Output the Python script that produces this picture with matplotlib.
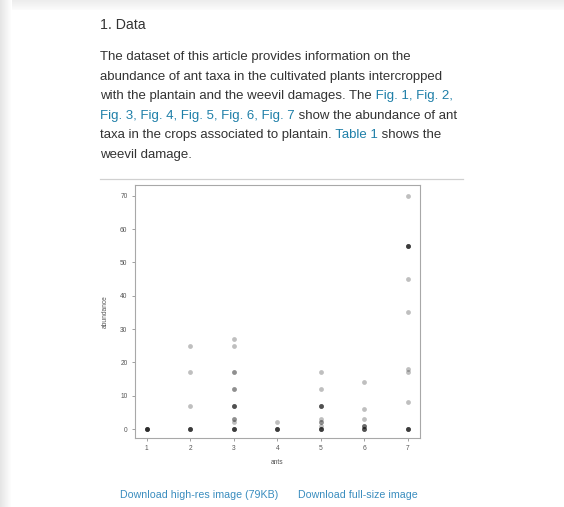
import numpy as np
import matplotlib
matplotlib.use("Agg")
import matplotlib.pyplot as plt

# ---- data ----
ants = ([1]*6 +
        [2]*5 + [2, 2, 2] +
        [3]*5 + [3] + [3]*2 + [3]*4 + [3]*2 + [3]*2 + [3, 3] +
        [4]*5 + [4] +
        [5]*5 + [5] + [5]*2 + [5] + [5]*4 + [5, 5] +
        [6]*4 + [6]*3 + [6, 6, 6] +
        [7]*5 + [7, 7, 7, 7, 7] + [7]*5 + [7])
abundance = ([0]*6 +
             [0]*5 + [7, 17, 25] +
             [0]*5 + [2] + [3]*2 + [7]*4 + [12]*2 + [17]*2 + [25, 27] +
             [0]*5 + [2] +
             [0]*5 + [1] + [2]*2 + [3] + [7]*4 + [12, 17] +
             [0]*4 + [1]*3 + [3, 6, 14] +
             [0]*5 + [8, 17, 18, 35, 45] + [55]*5 + [70])
x_ticks = [1, 2, 3, 4, 5, 6, 7]
y_ticks = [0, 10, 20, 30, 40, 50, 60, 70]

W, H = 564, 507
fig = plt.figure(figsize=(W/100, H/100), dpi=100)
fig.patch.set_facecolor("white")

# background shadows of the page card
bg = fig.add_axes([0, 0, 1, 1])
bg.axis("off")
top = np.linspace(0.93, 0.985, 10)[:, None] * np.ones((1, W))
bg.imshow(np.dstack([top]*3), extent=(0, W, 10, 0), aspect="auto")
left = np.ones((H, 1)) * np.linspace(0.90, 1.0, 12)[None, :]
bg.imshow(np.dstack([left]*3), extent=(0, 12, H, 0), aspect="auto")
bg.set_xlim(0, W); bg.set_ylim(H, 0)
bg.plot([100, 463], [179, 179], color="#d0d0d0", lw=0.9)

FONT = "Liberation Sans"
GRAY = "#333333"
BLUE = "#1e7fa8"
BODY = 9.5

def px(x, y):
    return x / W, 1 - y / H

fig.text(*px(100, 25), "1. Data", fontsize=10.2, color=GRAY, family=FONT, va="center")

lines = [
    [("The dataset of this article provides information on the", GRAY)],
    [("abundance of ant taxa in the cultivated plants intercropped", GRAY)],
    [("with the plantain and the weevil damages. The", GRAY), (" Fig. 1, Fig. 2,", BLUE)],
    [("Fig. 3, Fig. 4, Fig. 5, Fig. 6, Fig. 7", BLUE), (" show the abundance of ant", GRAY)],
    [("taxa in the crops associated to plantain.", GRAY), (" Table 1", BLUE), (" shows the", GRAY)],
    [("weevil damage.", GRAY)],
]
y0, dy = 57, 19.6
for i, parts in enumerate(lines):
    last = None
    for txt, col in parts:
        if last is None:
            last = fig.text(*px(100, y0 + i*dy), txt, fontsize=BODY, color=col,
                            family=FONT, va="center")
        else:
            last = bg.annotate(txt, xy=(1, 0), xycoords=last, fontsize=BODY,
                               color=col, family=FONT, va="bottom", ha="left",
                               annotation_clip=False)

# ---- scatter plot ----
ax = fig.add_axes([135/W, 1-438/H, 285/W, 253/H])
ax.scatter(ants, abundance, s=12, color="black", alpha=0.25, linewidths=0)
ax.set_xlim(0.73, 7.28)
ax.set_ylim(-2.7, 73.2)
ax.set_xticks(x_ticks)
ax.set_yticks(y_ticks)
for s in ax.spines.values():
    s.set_color("#a8a8a8"); s.set_linewidth(0.8)
ax.tick_params(axis="both", length=2.4, width=0.6, color="#909090",
               labelsize=4.8, labelcolor="#555555", pad=3)
for lab in ax.get_xticklabels() + ax.get_yticklabels():
    lab.set_family(FONT)
ax.set_xlabel("ants", fontsize=4.8, color="#555555", family=FONT, labelpad=5)
ax.set_ylabel("abundance", fontsize=4.8, color="#555555", family=FONT, labelpad=8)

LINK = "#3a8dbf"
fig.text(*px(120, 495), "Download high-res image (79KB)", fontsize=7.7,
         color=LINK, family=FONT, va="center")
fig.text(*px(298, 495), "Download full-size image", fontsize=7.7,
         color=LINK, family=FONT, va="center")

fig.savefig("out.png", dpi=100, facecolor="white")
